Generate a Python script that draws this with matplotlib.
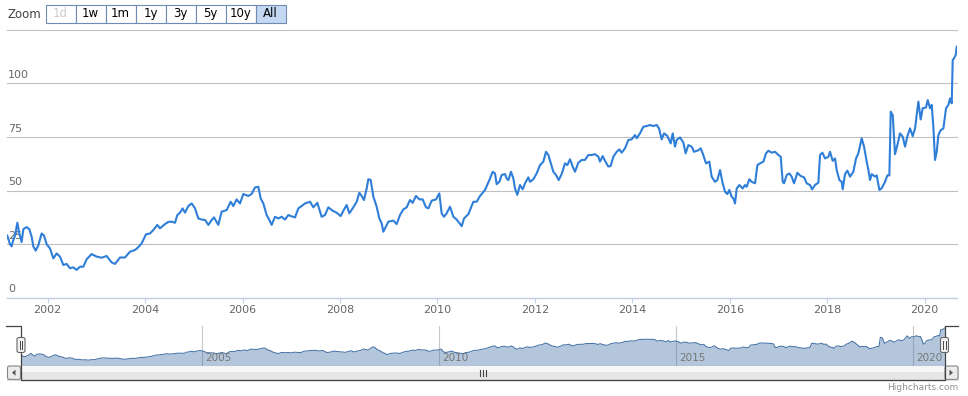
import matplotlib
matplotlib.use("Agg")
import matplotlib.pyplot as plt
from matplotlib.patches import Rectangle, FancyBboxPatch, Polygon
import numpy as np

# ---------------- data (decimal year, value) ----------------
years = [
    2001.171, 2001.226, 2001.260, 2001.295, 2001.329, 2001.377, 2001.418, 2001.466, 2001.500, 2001.568,
    2001.623, 2001.671, 2001.705, 2001.753, 2001.808, 2001.876, 2001.924, 2001.979, 2002.047, 2002.116,
    2002.184, 2002.252, 2002.321, 2002.389, 2002.458, 2002.526, 2002.594, 2002.663, 2002.731, 2002.800,
    2002.902, 2003.005, 2003.107, 2003.210, 2003.313, 2003.381, 2003.484, 2003.587, 2003.689, 2003.792,
    2003.860, 2003.929, 2004.018, 2004.100, 2004.168, 2004.250, 2004.305, 2004.408, 2004.476, 2004.545,
    2004.613, 2004.661, 2004.716, 2004.770, 2004.818, 2004.887, 2004.955, 2005.024, 2005.092, 2005.160,
    2005.229, 2005.297, 2005.366, 2005.413, 2005.502, 2005.571, 2005.673, 2005.755, 2005.810, 2005.878,
    2005.947, 2006.015, 2006.118,
    2006.186, 2006.255, 2006.323, 2006.371, 2006.426, 2006.494, 2006.549, 2006.597, 2006.665, 2006.734,
    2006.802, 2006.871, 2006.939, 2007.007, 2007.076, 2007.144, 2007.213, 2007.281, 2007.384, 2007.452,
    2007.534, 2007.623, 2007.692, 2007.760, 2007.849, 2007.931, 2008.013, 2008.068, 2008.136, 2008.191,
    2008.273, 2008.342, 2008.396, 2008.444, 2008.492, 2008.547, 2008.581, 2008.629, 2008.684, 2008.752,
    2008.807, 2008.855, 2008.889, 2008.937, 2008.992, 2009.094, 2009.163, 2009.231, 2009.299, 2009.368,
    2009.436, 2009.491, 2009.559, 2009.628, 2009.696, 2009.765, 2009.813, 2009.881, 2009.970, 2010.038,
    2010.086, 2010.134, 2010.189, 2010.257, 2010.326, 2010.394, 2010.497, 2010.545, 2010.634, 2010.736,
    2010.805, 2010.873, 2010.976, 2011.065,
    2011.133, 2011.181, 2011.215, 2011.270, 2011.318, 2011.386, 2011.420, 2011.455, 2011.509, 2011.557,
    2011.591, 2011.639, 2011.694, 2011.749, 2011.797, 2011.865, 2011.899, 2011.968, 2012.036, 2012.105,
    2012.173, 2012.228, 2012.276, 2012.323, 2012.378, 2012.433, 2012.488, 2012.549, 2012.618, 2012.666,
    2012.720, 2012.775, 2012.823, 2012.891, 2012.960, 2013.028, 2013.097, 2013.165, 2013.233, 2013.302,
    2013.336, 2013.391, 2013.439, 2013.507, 2013.555, 2013.610, 2013.678, 2013.733, 2013.781, 2013.849,
    2013.918, 2013.986, 2014.054, 2014.089, 2014.157, 2014.225, 2014.294, 2014.362, 2014.431, 2014.499,
    2014.547, 2014.602, 2014.650, 2014.718, 2014.787, 2014.828, 2014.875, 2014.910, 2014.978, 2015.047,
    2015.094, 2015.149, 2015.218, 2015.265, 2015.354, 2015.402, 2015.443, 2015.512, 2015.580, 2015.628,
    2015.696, 2015.744, 2015.799, 2015.854, 2015.902, 2015.950, 2015.991,
    2016.039, 2016.073, 2016.107, 2016.142, 2016.196, 2016.265, 2016.313, 2016.347, 2016.402, 2016.449,
    2016.518, 2016.566, 2016.621, 2016.689, 2016.744, 2016.792, 2016.860, 2016.928, 2016.997, 2017.045,
    2017.086, 2017.113, 2017.168, 2017.223, 2017.270, 2017.318, 2017.387, 2017.455, 2017.524, 2017.578,
    2017.647, 2017.688, 2017.749, 2017.818, 2017.852, 2017.900, 2017.955, 2018.023, 2018.057, 2018.112,
    2018.160, 2018.194, 2018.249, 2018.297, 2018.317, 2018.365, 2018.413, 2018.468, 2018.536, 2018.591,
    2018.639, 2018.707, 2018.755, 2018.810, 2018.844, 2018.878, 2018.913, 2018.981, 2019.015, 2019.070,
    2019.118, 2019.186, 2019.234, 2019.275, 2019.303, 2019.344, 2019.391, 2019.439, 2019.494, 2019.549,
    2019.597, 2019.645, 2019.699, 2019.754, 2019.802, 2019.870, 2019.918, 2019.959, 2020.028, 2020.062,
    2020.110, 2020.144, 2020.178, 2020.212, 2020.247, 2020.281, 2020.329, 2020.384, 2020.438, 2020.486,
    2020.520, 2020.555, 2020.575, 2020.602, 2020.637, 2020.657,
]
values = [
    29.0, 25.0, 24.0, 27.0, 29.0, 35.0, 30.0, 26.0, 32.0, 33.0,
    32.0, 28.5, 24.0, 22.0, 24.5, 30.0, 29.0, 25.0, 23.0, 18.4,
    20.7, 19.2, 15.3, 15.8, 13.8, 14.2, 13.0, 14.5, 14.5, 18.0,
    20.4, 19.2, 18.7, 19.5, 16.5, 15.8, 18.8, 18.8, 21.5, 22.3,
    23.6, 25.4, 29.6, 30.0, 31.6, 34.0, 32.4, 34.4, 35.4, 35.5,
    35.0, 38.6, 39.7, 41.7, 39.7, 42.8, 44.0, 41.7, 37.0, 36.5,
    36.3, 34.0, 36.3, 37.5, 34.0, 40.2, 40.9, 44.8, 42.8, 45.9,
    44.0, 48.4, 47.5,
    48.4, 51.5, 51.8, 46.4, 44.0, 38.6, 36.3, 34.0, 37.8, 37.0,
    37.8, 36.5, 38.6, 38.0, 37.5, 41.7, 42.8, 44.0, 44.8, 42.2,
    44.3, 37.8, 38.6, 42.2, 40.6, 39.7, 38.1, 40.6, 43.3, 39.4,
    42.2, 44.8, 49.0, 47.5, 45.6, 51.0, 55.3, 55.0, 47.2, 42.5,
    37.0, 34.7, 30.8, 33.0, 35.5, 36.0, 34.4, 38.6, 41.2, 42.2,
    45.6, 44.3, 47.5, 45.9, 45.9, 42.2, 41.7, 45.3, 45.9, 48.7,
    39.4, 37.8, 39.4, 42.5, 37.8, 36.5, 33.4, 37.0, 39.0, 44.8,
    44.8, 47.5, 50.3, 54.9,
    58.8, 58.0, 53.0, 54.1, 57.3, 57.7, 55.7, 54.9, 58.8, 55.7,
    51.1, 48.0, 52.6, 50.6, 53.4, 56.2, 54.1, 55.3, 58.0, 61.9,
    63.5, 68.1, 66.6, 63.0, 58.8, 57.3, 54.9, 57.7, 62.7, 61.9,
    64.6, 61.2, 58.8, 63.0, 64.3, 64.3, 66.6, 66.6, 67.0, 65.8,
    63.5, 66.1, 63.9, 61.2, 61.5, 65.8, 68.1, 69.2, 67.7, 69.7,
    73.6, 73.9, 75.9, 74.4, 76.7, 79.8, 80.1, 80.6, 80.1, 80.6,
    79.0, 73.9, 76.7, 75.5, 72.0, 76.7, 70.5, 73.6, 74.8, 72.4,
    67.4, 71.2, 70.5, 68.1, 68.8, 69.7, 67.4, 62.7, 63.5, 56.5,
    54.1, 54.9, 59.6, 53.4, 49.5, 48.4, 50.3,
    47.1, 46.4, 44.0, 51.0, 52.6, 51.0, 52.6, 51.8, 55.3, 54.1,
    53.4, 61.9, 62.7, 63.5, 67.4, 68.6, 67.7, 68.1, 66.6, 65.8,
    54.1, 53.4, 57.3, 58.0, 56.5, 53.4, 58.3, 56.8, 56.2, 53.4,
    52.6, 50.6, 52.6, 53.7, 66.6, 67.7, 65.0, 65.8, 68.1, 63.9,
    65.0, 59.6, 54.9, 54.1, 50.6, 57.7, 59.3, 56.5, 58.8, 65.0,
    67.4, 74.4, 70.5, 63.5, 59.6, 54.9, 57.7, 56.5, 57.1, 50.3,
    51.1, 54.1, 57.1, 57.1, 86.8, 85.2, 67.0, 71.2, 76.7, 75.1,
    70.5, 75.4, 79.0, 75.4, 79.0, 91.5, 83.2, 88.4, 88.8, 92.2,
    88.4, 90.0, 79.8, 64.3, 68.1, 75.9, 78.2, 79.0, 88.4, 90.0,
    93.0, 90.7, 110.9, 111.7, 113.3, 117.1,
]
y_ticks = [0, 25, 50, 75, 100]
x_ticks = [2002, 2004, 2006, 2008, 2010, 2012, 2014, 2016, 2018, 2020]
nav_ticks = [2005, 2010, 2015, 2020]
buttons = ["1d", "1w", "1m", "1y", "3y", "5y", "10y", "All"]

# ---------------- figure ----------------
W, H = 968, 396
fig = plt.figure(figsize=(W / 100, H / 100), dpi=100)
fig.patch.set_facecolor("white")
plt.rcParams["font.family"] = ["DejaVu Sans"]

def rect(px0, py0, px1, py1):
    return [px0 / W, 1 - py1 / H, (px1 - px0) / W, (py1 - py0) / H]

XMIN, XMAX = 2001.171, 2020.657

# main plot
ax = fig.add_axes(rect(7.3, 29.8, 956.7, 297.8))
ax.set_xlim(XMIN, XMAX)
ax.set_ylim(0, 125)
for s in ["top", "right", "left"]:
    ax.spines[s].set_visible(False)
ax.spines["bottom"].set_color("#C0D0E0")
ax.spines["bottom"].set_linewidth(1.0)
for v in [25, 50, 75, 100, 125]:
    ax.axhline(v, color="#C0C0C0", lw=0.8, zorder=1, clip_on=False)
ax.set_yticks([])
for v in y_ticks:
    ax.annotate(str(v), xy=(0.0008, v), xycoords=ax.get_yaxis_transform(),
                xytext=(0, 2.5), textcoords="offset points",
                ha="left", va="bottom", fontsize=8, color="#666666", zorder=2)
ax.set_xticks(x_ticks)
ax.set_xticklabels([str(t) for t in x_ticks])
ax.tick_params(axis="x", direction="out", length=3.8, width=0.8, color="#C0D0E0",
               labelcolor="#666666", labelsize=8, pad=1.5)
ax.plot(years, values, color="#2F7ED8", lw=1.5, solid_joinstyle="round", zorder=3)

# navigator
axn = fig.add_axes(rect(21, 325.5, 944.5, 365.7))
axn.set_xlim(XMIN, XMAX)
axn.set_ylim(-5, 125)
axn.axis("off")
axn.fill_between(years, values, -5, color="#4572A7", alpha=0.4, lw=0, zorder=2)
axn.plot(years, values, color="#4572A7", lw=0.75, zorder=3)
for t in nav_ticks:
    axn.axvline(t, color="#C8C8C8", lw=0.8, zorder=1)
    axn.annotate(str(t), xy=(t, 0), xycoords=axn.get_xaxis_transform(),
                 xytext=(2, 2), textcoords="offset points",
                 ha="left", va="bottom", fontsize=7.5, color="#777777", zorder=4)

# overlay in pixel coords
ov = fig.add_axes([0, 0, 1, 1])
ov.set_xlim(0, W)
ov.set_ylim(H, 0)
ov.axis("off")
ov.patch.set_visible(False)

# range selector
ov.text(8, 14, "Zoom", ha="left", va="center", fontsize=8.5, color="#444444")
x0 = 45.5
for i, b in enumerate(buttons):
    bx = x0 + i * 30
    sel = (b == "All")
    fc = "#C4D8F2" if sel else "#FFFFFF"
    ov.add_patch(Rectangle((bx, 4.5), 30, 18, facecolor=fc, edgecolor="#6F8BB3", lw=0.8, zorder=5))
    tc = "#CCCCCC" if b == "1d" else "#000000"
    ov.text(bx + 15, 13.8, b, ha="center", va="center", fontsize=8.5, color=tc, zorder=6)

# scrollbar
ov.add_patch(Rectangle((7, 365.7), 951, 14, facecolor="#EEEEEE", edgecolor="#DDDDDD", lw=0.8, zorder=5))
ov.add_patch(Rectangle((21, 365.7), 923.5, 14, facecolor="#E6E6E6", edgecolor="#888888", lw=0.8, zorder=6))
ov.add_patch(Rectangle((21, 366.2), 923.5, 6, facecolor="#F6F6F6", edgecolor="none", zorder=6))
for bx in (7, 944.5):
    ov.add_patch(FancyBboxPatch((bx + 0.5, 366), 13, 13.4, boxstyle="round,pad=0,rounding_size=2",
                                facecolor="#EBEBEB", edgecolor="#888888", lw=0.8, zorder=7))
ov.add_patch(Polygon([[15.5, 369.7], [15.5, 375.7], [12, 372.7]], closed=True, facecolor="#555555", zorder=8))
ov.add_patch(Polygon([[949.5, 369.7], [949.5, 375.7], [953, 372.7]], closed=True, facecolor="#555555", zorder=8))
for gx in (479.5, 482.5, 485.5):
    ov.plot([gx, gx], [369.5, 376], color="#444444", lw=0.8, zorder=8)

# outline
ov.plot([6, 21, 21, 944.5, 944.5, 958], [325.5, 325.5, 379.7, 379.7, 325.5, 325.5],
        color="#444444", lw=0.9, zorder=9)

# handles
for hx in (21, 944.5):
    ov.add_patch(FancyBboxPatch((hx - 4, 337.5), 8, 15, boxstyle="round,pad=0,rounding_size=2",
                                facecolor="#F2F2F2", edgecolor="#666666", lw=0.8, zorder=10))
    for g in (-1.2, 1.2):
        ov.plot([hx + g, hx + g], [341, 349], color="#444444", lw=0.7, zorder=11)

ov.text(958, 387, "Highcharts.com", ha="right", va="center", fontsize=6.5, color="#909090")

fig.savefig("out.png", dpi=100)
